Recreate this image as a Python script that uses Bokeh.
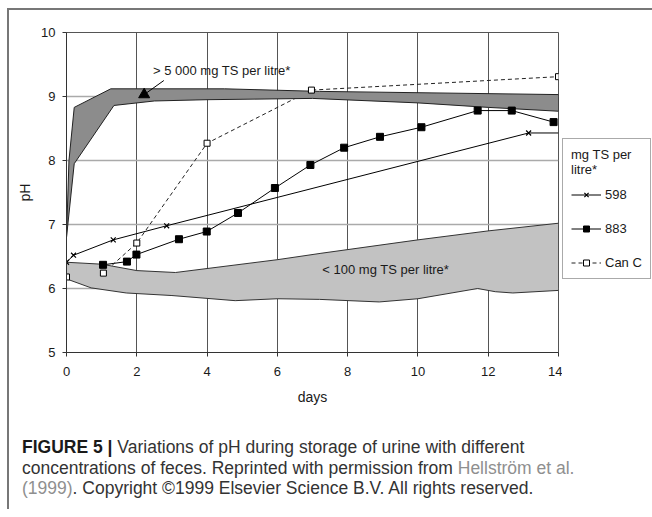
from bokeh.plotting import figure
from bokeh.models import Range1d, FixedTicker, Legend, LegendItem, Label, Div
from bokeh.layouts import column, row
from bokeh.embed import file_html
from bokeh.resources import INLINE
from bokeh.core.properties import value

# ---- data ----
days_598 = [0, 0.2, 1.33, 2.85, 13.15, 14]
ph_598 = [6.41, 6.52, 6.76, 6.98, 8.43, 8.43]

days_883 = [1.04, 1.72, 1.99, 3.2, 3.99, 4.88, 5.93, 6.94, 7.9, 8.92, 10.1, 11.7, 12.67, 13.86]
ph_883 = [6.37, 6.42, 6.53, 6.77, 6.89, 7.18, 7.57, 7.93, 8.2, 8.37, 8.52, 8.78, 8.78, 8.6]

days_canc = [0, 1.05, 2, 4, 6.97, 14]
ph_canc = [6.18, 6.24, 6.71, 8.27, 9.1, 9.31]

high_upper_days = [0, 0.07, 0.22, 1.26, 4.5, 7.2, 14]
high_upper_ph = [6.8, 8.0, 8.83, 9.12, 9.12, 9.08, 9.03]
high_lower_days = [0, 0.22, 1.35, 2.5, 4, 7, 10, 12, 14]
high_lower_ph = [6.8, 7.95, 8.86, 8.93, 8.95, 8.97, 8.9, 8.83, 8.77]

low_upper_days = [0, 1, 2, 3.1, 6, 7.24, 10, 12, 14]
low_upper_ph = [6.41, 6.38, 6.28, 6.25, 6.45, 6.55, 6.76, 6.9, 7.02]
low_lower_days = [0, 0.7, 1.7, 3, 4.8, 6, 7.2, 8.9, 10, 11.7, 12.2, 12.7, 14]
low_lower_ph = [6.15, 6.01, 5.93, 5.89, 5.81, 5.84, 5.83, 5.79, 5.84, 6.0, 5.95, 5.93, 5.97]

x_ticks = [0, 2, 4, 6, 8, 10, 12, 14]
y_ticks = [5, 6, 7, 8, 9, 10]

series_labels = ["598", "883", "Can C"]
legend_title = "mg TS per\nlitre*"

high_label = "> 5 000 mg TS per litre*"
low_label = "< 100 mg TS per litre*"
high_label_pos = (2.46, 9.41)
low_label_pos = (7.28, 6.29)
arrow_tail = (2.77, 9.25)
arrow_head = (2.21, 9.03)

FONT = "Liberation Sans"

p = figure(frame_width=492, frame_height=320,
           min_border_left=57, min_border_top=22, min_border_right=4, min_border_bottom=58,
           x_range=Range1d(0, 14), y_range=Range1d(5, 10),
           output_backend="svg", toolbar_location=None)

p.background_fill_color = "white"
p.border_fill_color = "white"
p.outline_line_color = "#555555"
p.outline_line_width = 1

for ax in (p.xaxis, p.yaxis):
    ax.axis_line_color = "#333333"
    ax.major_tick_line_color = "#333333"
    ax.major_tick_out = 4
    ax.major_tick_in = 0
    ax.minor_tick_line_color = None
    ax.major_label_text_font = FONT
    ax.major_label_text_font_size = "13px"
    ax.major_label_text_color = "#1a1a1a"
    ax.axis_label_text_font = FONT
    ax.axis_label_text_font_size = "14px"
    ax.axis_label_text_font_style = "normal"
    ax.axis_label_text_color = "#1a1a1a"

p.xaxis.ticker = FixedTicker(ticks=x_ticks)
p.yaxis.ticker = FixedTicker(ticks=y_ticks)
p.xaxis.axis_label = "days"
p.yaxis.axis_label = "pH"
p.xaxis.major_label_standoff = 10
p.yaxis.major_label_standoff = 7
p.xaxis.axis_label_standoff = 10
p.yaxis.axis_label_standoff = 5

p.xgrid.ticker = FixedTicker(ticks=x_ticks)
p.ygrid.ticker = FixedTicker(ticks=y_ticks)
p.xgrid.grid_line_color = "#555555"
p.xgrid.grid_line_width = 1
p.ygrid.grid_line_color = "#aaaaaa"
p.ygrid.grid_line_width = 1.5

line_598 = dict(line_color="black", line_width=1)
line_883 = dict(line_color="black", line_width=1)
line_can = dict(line_color="#222222", line_width=1, line_dash="4 3")
mark_598 = dict(marker="x", size=7, line_color="black", line_width=1.2)
mark_883 = dict(marker="square", size=7, fill_color="black", line_color="black")
mark_can = dict(marker="square", size=6, fill_color="white", line_color="black", line_width=1)

# lines
p.line(days_598, ph_598, **line_598)
p.line(days_883, ph_883, **line_883)
p.line(days_canc, ph_canc, **line_can)

# bands
p.patch(high_upper_days + high_lower_days[::-1], high_upper_ph + high_lower_ph[::-1],
        fill_color="#8c8c8c", line_color="#222222", line_width=1)
p.patch(low_upper_days + low_lower_days[::-1], low_upper_ph + low_lower_ph[::-1],
        fill_color="#c2c2c2", line_color="#333333", line_width=1)

# markers
p.scatter(days_598[:-1], ph_598[:-1], **mark_598)
p.scatter(days_883, ph_883, **mark_883)
p.scatter(days_canc, ph_canc, **mark_can)

# arrow for the > 5000 label
p.segment(x0=[arrow_tail[0]], y0=[arrow_tail[1]], x1=[arrow_head[0]], y1=[arrow_head[1]],
          line_color="black", line_width=1)
p.scatter([arrow_head[0]], [arrow_head[1]], marker="triangle", size=11,
          fill_color="black", line_color="black")

p.add_layout(Label(x=high_label_pos[0], y=high_label_pos[1], text=high_label,
                   text_font=FONT, text_font_size="13px", text_baseline="middle",
                   text_color="#1a1a1a"))
p.add_layout(Label(x=low_label_pos[0], y=low_label_pos[1], text=low_label,
                   text_font=FONT, text_font_size="13px", text_baseline="middle",
                   text_color="#1a1a1a"))

# ---- legend panel (separate small figure to the right of the frame) ----
# the same series are given to it, but its ranges keep them out of view; only the legend shows
lf = figure(width=90, height=400, min_border=0, x_axis_type=None, y_axis_type=None,
            x_range=Range1d(-100, -99), y_range=Range1d(-100, -99),
            output_backend="svg", toolbar_location=None)
lf.outline_line_color = None
lf.grid.visible = False
lf.background_fill_color = "white"
lf.border_fill_color = "white"

r598 = [lf.line(days_598, ph_598, **line_598), lf.scatter(days_598, ph_598, **mark_598)]
r883 = [lf.line(days_883, ph_883, **line_883), lf.scatter(days_883, ph_883, **mark_883)]
rcan = [lf.line(days_canc, ph_canc, **line_can), lf.scatter(days_canc, ph_canc, **mark_can)]

legend = Legend(items=[LegendItem(label=series_labels[0], renderers=r598),
                       LegendItem(label=series_labels[1], renderers=r883),
                       LegendItem(label=series_labels[2], renderers=rcan)],
                location=(0, 73))
legend.title = legend_title
legend.title_text_font = FONT
legend.title_text_font_size = "13px"
legend.title_text_font_style = "normal"
legend.title_text_color = "#1a1a1a"
legend.title_standoff = 10
legend.label_text_font = FONT
legend.label_text_font_size = "13px"
legend.label_text_color = "#1a1a1a"
legend.label_standoff = 4
legend.glyph_width = 30
legend.glyph_height = 15
legend.label_height = 15
legend.spacing = 19
legend.padding = 8
legend.margin = 0
legend.border_line_color = "#555555"
legend.border_line_width = 1
legend.background_fill_color = "white"
legend.background_fill_alpha = 1
lf.add_layout(legend)

caption_html = (
    '<div style="white-space:nowrap">'
    '<b style="color:#1a1a1a">FIGURE 5 |</b> Variations of pH during storage of urine with different<br>'
    'concentrations of feces. Reprinted with permission from '
    '<span style="color:#8f8f8f">Hellstr\u00f6m et al.</span><br>'
    '<span style="color:#8f8f8f">(1999)</span>. Copyright \u00a91999 Elsevier Science B.V. All rights reserved.'
    '</div>'
)
cap = Div(text=caption_html, width=632, height=98, margin=(0, 0, 0, 0),
          styles={"font-family": "'Liberation Sans', Arial, sans-serif", "font-size": "17.5px",
                  "line-height": "20.5px", "color": "#333333",
                  "padding-left": "13px", "padding-top": "27px"})

top_rule = Div(text="", width=643, height=2, margin=(0, 0, 0, 0),
               styles={"background-color": "#777777"})
left_rule = Div(text="", width=2, height=501, margin=(0, 0, 0, 0),
                styles={"background-color": "#777777"})

layout = row(left_rule,
             column(top_rule, row(p, lf, spacing=0), cap, spacing=0),
             spacing=0, margin=(8, 0, 0, 7))

open("out.html", "w").write(file_html(layout, INLINE))
